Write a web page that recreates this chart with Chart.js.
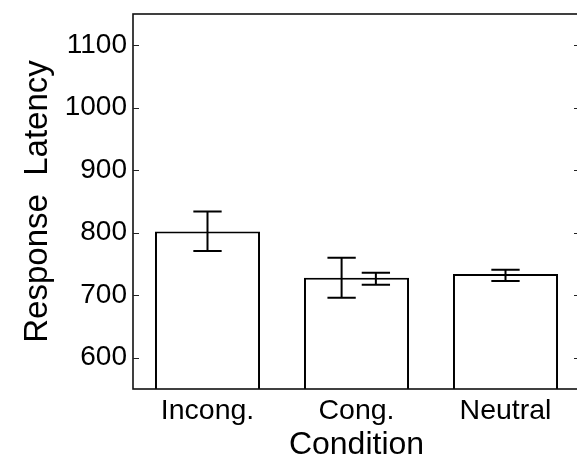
<!DOCTYPE html>
<html>
<head>
<meta charset="utf-8">
<script src="https://cdn.jsdelivr.net/npm/chart.js@4"></script>
<style>
html,body{margin:0;padding:0;background:#fff;overflow:hidden;width:577px;height:464px;}
#wrap{width:581px;height:464px;}
</style>
</head>
<body>
<div id="wrap"><canvas id="c" width="581" height="464"></canvas></div>
<script>
const categories = ["Incong.", "Cong.", "Neutral"];
const barValues = [802, 728, 734];
const errPositions = [0, 0.9, 1.13, 2];
const errLow = [771, 696, 717, 723];
const errHigh = [834, 760, 736, 741];
const yTicks = [600, 700, 800, 900, 1000, 1100];
const yMin = 550, yMax = 1150;

const font = "'Liberation Sans', Arial, Helvetica, sans-serif";

const framePlugin = {
  id: 'frame',
  afterDatasetsDraw(chart) {
    const ctx = chart.ctx, a = chart.chartArea;
    const xs = chart.scales.x, ys = chart.scales.y;
    ctx.save();
    ctx.strokeStyle = '#000';
    ctx.lineWidth = 2;
    const catW = xs.getPixelForValue(1) - xs.getPixelForValue(0);
    const capHalf = catW * 0.095;
    for (let i = 0; i < errPositions.length; i++) {
      const x = xs.getPixelForValue(0) + errPositions[i] * catW;
      const yl = ys.getPixelForValue(errLow[i]);
      const yh = ys.getPixelForValue(errHigh[i]);
      ctx.beginPath();
      ctx.moveTo(x, yl); ctx.lineTo(x, yh);
      ctx.moveTo(x - capHalf, yl); ctx.lineTo(x + capHalf, yl);
      ctx.moveTo(x - capHalf, yh); ctx.lineTo(x + capHalf, yh);
      ctx.stroke();
    }
    ctx.lineWidth = 1.6;
    ctx.strokeStyle = '#111';
    ctx.strokeRect(a.left, a.top, a.right - a.left, a.bottom - a.top);
    ctx.lineWidth = 1.2;
    ctx.strokeStyle = '#222';
    yTicks.forEach(v => {
      const y = Math.round(ys.getPixelForValue(v)) + 0.5;
      ctx.beginPath();
      ctx.moveTo(a.left, y); ctx.lineTo(a.left + 6, y);
      ctx.moveTo(a.right, y); ctx.lineTo(a.right - 6, y);
      ctx.stroke();
    });
    ctx.restore();
  }
};

new Chart(document.getElementById('c'), {
  type: 'bar',
  data: {
    labels: categories,
    datasets: [{
      data: barValues,
      backgroundColor: '#ffffff',
      borderColor: '#000',
      borderWidth: 2,
      borderSkipped: 'bottom',
      categoryPercentage: 1,
      barPercentage: 0.705
    }]
  },
  options: {
    responsive: false,
    animation: false,
    devicePixelRatio: 1,
    layout: { padding: { top: 14, right: 1, left: 0, bottom: 0 } },
    plugins: { legend: { display: false }, tooltip: { enabled: false } },
    scales: {
      x: {
        grid: { display: false, drawTicks: false },
        border: { display: false },
        ticks: { color: '#000', font: { family: font, size: 28.5 }, padding: 5 },
        title: { display: true, text: 'Condition', color: '#000', font: { family: font, size: 32 }, padding: { top: 1, bottom: 0 } },
        afterFit(s) { s.height = 75; s.paddingLeft = 0; s.paddingRight = 0; }
      },
      y: {
        min: yMin, max: yMax,
        afterBuildTicks(s) { s.ticks = yTicks.map(v => ({ value: v })); },
        grid: { display: false, drawTicks: false },
        border: { display: false },
        ticks: { color: '#000', font: { family: font, size: 28 }, padding: 6, callback: v => String(v) },
        title: { display: true, text: 'Response  Latency', color: '#000', font: { family: font, size: 33 }, padding: { top: 18, bottom: 0 } },
        afterFit(s) { s.width = 133; s.paddingTop = 0; s.paddingBottom = 0; }
      }
    }
  },
  plugins: [framePlugin]
});
</script>
</body>
</html>
